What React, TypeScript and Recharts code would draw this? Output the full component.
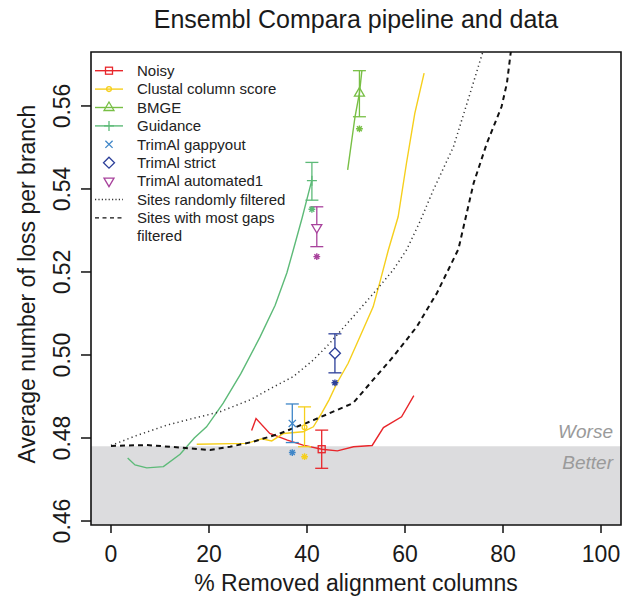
import React from "react";
import {
  ComposedChart,
  Line,
  Scatter,
  XAxis,
  YAxis,
  ErrorBar,
  ReferenceArea,
  Legend,
} from "recharts";

const FONT = '"Liberation Sans", Arial, Helvetica, sans-serif';

// axes
const X_TICKS = [0, 20, 40, 60, 80, 100];
const Y_TICKS = [0.46, 0.48, 0.5, 0.52, 0.54, 0.56];
const X_DOMAIN = [-4.08, 104.08];
const Y_DOMAIN = [0.45904, 0.573];
const BASELINE = 0.478; // untrimmed level: below = better

// curves (x = % removed columns, y = mean losses per branch)
const NOISY_X = [28.7, 29.6, 32.4, 36.0, 39.2, 43.0, 46.2, 49.5, 53.3, 55.6, 59.3, 61.8];
const NOISY_Y = [0.4818, 0.4847, 0.4811, 0.4795, 0.4783, 0.4773, 0.4769, 0.4779, 0.4782, 0.4825, 0.4851, 0.4902];

const CLUSTAL_X = [17.5, 27.7, 30.8, 32.8, 35.2, 39.2, 41.3, 43.0, 44.5, 46.1, 48.4, 50.8, 53.5, 55.0, 56.6, 58.6, 60.3, 62.0, 63.9];
const CLUSTAL_Y = [0.4785, 0.4787, 0.4798, 0.4793, 0.4811, 0.4815, 0.4827, 0.486, 0.4892, 0.4932, 0.498, 0.5044, 0.5116, 0.5181, 0.5253, 0.5333, 0.5462, 0.5582, 0.5679];

const BMGE_X = [48.3, 49.8, 50.7, 51.2];
const BMGE_Y = [0.5446, 0.5574, 0.5631, 0.5685];

const GUIDANCE_X = [3.4, 4.9, 7.3, 10.7, 14.1, 17.0, 19.5, 22.9, 26.5, 30.4, 33.5, 35.9, 37.2, 39.0, 41.0];
const GUIDANCE_Y = [0.4752, 0.4735, 0.4728, 0.4731, 0.4761, 0.48, 0.4827, 0.4884, 0.4955, 0.5043, 0.512, 0.5198, 0.5253, 0.533, 0.5422];

const RANDOM_X = [0, 5, 11.4, 17, 22.2, 28.4, 33, 37.2, 41, 44, 49.4, 54.2, 57.6, 60.3, 63, 65.8, 69.9, 73.3, 75.9];
const RANDOM_Y = [0.4782, 0.4805, 0.4831, 0.4848, 0.4863, 0.4892, 0.4922, 0.4948, 0.4985, 0.502, 0.5092, 0.5157, 0.5205, 0.5253, 0.532, 0.5398, 0.5502, 0.5631, 0.5731];

const GAPS_X = [0, 7.3, 14.1, 20.2, 24.3, 29, 34.5, 41.3, 49.4, 52.9, 57.6, 62.4, 66.5, 70.9, 74, 76.7, 79.7, 80.8, 81.6];
const GAPS_Y = [0.4781, 0.4783, 0.4777, 0.4771, 0.4779, 0.4791, 0.4811, 0.4843, 0.4884, 0.4932, 0.4996, 0.5068, 0.5149, 0.5255, 0.5414, 0.551, 0.5598, 0.5655, 0.5731];

// default settings of each method, with interval and asterisk value
const METHODS = ["Noisy", "Clustal column score", "BMGE", "Guidance", "TrimAl gappyout", "TrimAl strict", "TrimAl automated1"];
const METHOD_X = [43.0, 39.5, 50.7, 41.0, 37.0, 45.7, 42.0];
const METHOD_Y = [0.4773, 0.4826, 0.5631, 0.542, 0.4835, 0.5004, 0.5307];
const METHOD_LO = [0.4727, 0.4779, 0.5574, 0.5373, 0.4789, 0.4957, 0.5261];
const METHOD_HI = [0.4819, 0.4875, 0.5685, 0.5464, 0.4882, 0.5051, 0.5357];
const STAR_Y = [null, 0.4755, 0.5545, 0.5351, 0.4765, 0.4933, 0.5237];

const COLORS = ["#e8262b", "#f6cf1c", "#78bf45", "#5dba78", "#3f86c8", "#2c3f99", "#a8429c"];
const SHAPES = ["square", "circle", "triangle", "plus", "cross", "diamond", "down"];

const zip = (xs: number[], ys: number[]) => xs.map((x, i) => ({ x, y: ys[i] }));

const CURVES = [
  { key: "noisy", pts: zip(NOISY_X, NOISY_Y), color: COLORS[0], width: 1.4, dash: undefined },
  { key: "clustal", pts: zip(CLUSTAL_X, CLUSTAL_Y), color: COLORS[1], width: 1.4, dash: undefined },
  { key: "bmge", pts: zip(BMGE_X, BMGE_Y), color: COLORS[2], width: 1.4, dash: undefined },
  { key: "guidance", pts: zip(GUIDANCE_X, GUIDANCE_Y), color: COLORS[3], width: 1.4, dash: undefined },
  { key: "random", pts: zip(RANDOM_X, RANDOM_Y), color: "#333", width: 1.5, dash: "1.2 3.2" },
  { key: "gaps", pts: zip(GAPS_X, GAPS_Y), color: "#111", width: 2, dash: "5 4" },
];

function Marker({ kind, cx, cy, color }: { kind: string; cx: number; cy: number; color: string }) {
  const s = { stroke: color, strokeWidth: 1.3, fill: "none" };
  switch (kind) {
    case "square":
      return <rect x={cx - 3.5} y={cy - 3.5} width={7} height={7} {...s} />;
    case "circle":
      return <circle cx={cx} cy={cy} r={2.4} {...s} />;
    case "triangle":
      return <path d={`M${cx},${cy - 5.5}L${cx + 5},${cy + 3}L${cx - 5},${cy + 3}Z`} {...s} />;
    case "plus":
      return <path d={`M${cx - 5},${cy}H${cx + 5}M${cx},${cy - 5}V${cy + 5}`} {...s} />;
    case "cross":
      return <path d={`M${cx - 3.6},${cy - 3.6}L${cx + 3.6},${cy + 3.6}M${cx - 3.6},${cy + 3.6}L${cx + 3.6},${cy - 3.6}`} {...s} />;
    case "diamond":
      return <path d={`M${cx},${cy - 5.5}L${cx + 5.5},${cy}L${cx},${cy + 5.5}L${cx - 5.5},${cy}Z`} {...s} fill="#fff" />;
    case "down":
      return <path d={`M${cx - 5},${cy - 3}L${cx + 5},${cy - 3}L${cx},${cy + 5.5}Z`} {...s} fill="#fff" />;
    default:
      return null;
  }
}

function Star({ cx, cy, color }: { cx: number; cy: number; color: string }) {
  const r = 3.4;
  const d = r * 0.72;
  return (
    <path
      d={`M${cx - r},${cy}H${cx + r}M${cx},${cy - r}V${cy + r}M${cx - d},${cy - d}L${cx + d},${cy + d}M${cx - d},${cy + d}L${cx + d},${cy - d}`}
      stroke={color}
      strokeWidth={1.4}
    />
  );
}

const LEGEND_ROWS = [
  { label: "Noisy", color: COLORS[0], kind: "square", line: true },
  { label: "Clustal column score", color: COLORS[1], kind: "circle", line: true },
  { label: "BMGE", color: COLORS[2], kind: "triangle", line: true },
  { label: "Guidance", color: COLORS[3], kind: "plus", line: true },
  { label: "TrimAl gappyout", color: COLORS[4], kind: "cross", line: false },
  { label: "TrimAl strict", color: COLORS[5], kind: "diamond", line: false },
  { label: "TrimAl automated1", color: COLORS[6], kind: "down", line: false },
  { label: "Sites randomly filtered", color: "#333", kind: "", line: true, dash: "1.2 2.2" },
  { label: "Sites with most gaps", color: "#111", kind: "", line: true, dash: "4 3.5" },
];

function LegendBox() {
  return (
    <svg width={240} height={190} style={{ display: "block", overflow: "visible" }}>
      {LEGEND_ROWS.map((r, i) => {
        const y = 11.7 + i * 18.4;
        return (
          <g key={r.label}>
            {r.line && (
              <line x1={3} x2={31} y1={y} y2={y} stroke={r.color} strokeWidth={r.dash ? 1.3 : 1.4} strokeDasharray={r.dash} />
            )}
            {r.kind && <Marker kind={r.kind} cx={17} cy={y} color={r.color} />}
            <text x={45} y={y + 5.3} fontSize={15} fill="#222" fontFamily={FONT}>
              {r.label}
            </text>
          </g>
        );
      })}
      <text x={45} y={182} fontSize={15} fill="#222" fontFamily={FONT}>
        filtered
      </text>
    </svg>
  );
}

function XTick(props: any) {
  const { x, y, payload } = props;
  return (
    <text x={x} y={y + 27} textAnchor="middle" fontSize={23} fill="#1a1a1a" fontFamily={FONT}>
      {payload.value}
    </text>
  );
}

function YTick(props: any) {
  const { x, y, payload } = props;
  const bx = x - 9;
  return (
    <text x={bx} y={y} transform={`rotate(-90, ${bx}, ${y})`} textAnchor="middle" fontSize={23} fill="#1a1a1a" fontFamily={FONT}>
      {Number(payload.value).toFixed(2)}
    </text>
  );
}

export default function App() {
  return (
    <div style={{ position: "absolute", left: 0, top: 0, width: 632, height: 601, background: "#fff" }}>
      <svg width={632} height={40} style={{ position: "absolute", left: 0, top: 0 }}>
        <text x={356} y={28} textAnchor="middle" fontSize={25} fill="#1a1a1a" fontFamily={FONT}>
          Ensembl Compara pipeline and data
        </text>
      </svg>
      <div style={{ position: "absolute", left: 0, top: 0 }}>
        <ComposedChart width={632} height={601} margin={{ top: 52, right: 11, bottom: 0, left: 0 }}>
          <XAxis
            dataKey="x"
            type="number"
            domain={X_DOMAIN}
            allowDataOverflow
            ticks={X_TICKS}
            height={76}
            tickSize={8}
            axisLine={false}
            tickLine={{ stroke: "#111", strokeWidth: 1.5 }}
            tick={<XTick />}
            label={() => (
              <text x={356} y={591} textAnchor="middle" fontSize={23} fill="#1a1a1a" fontFamily={FONT}>
                % Removed alignment columns
              </text>
            )}
          />
          <YAxis
            dataKey="y"
            type="number"
            domain={Y_DOMAIN}
            allowDataOverflow
            ticks={Y_TICKS}
            width={91}
            tickSize={10}
            axisLine={false}
            tickLine={{ stroke: "#111", strokeWidth: 1.5 }}
            tick={<YTick />}
            label={() => (
              <text x={35} y={284} transform="rotate(-90, 35, 284)" textAnchor="middle" fontSize={23} fill="#1a1a1a" fontFamily={FONT}>
                Average number of loss per branch
              </text>
            )}
          />
          <ReferenceArea
            x1={X_DOMAIN[0]}
            x2={X_DOMAIN[1]}
            y1={Y_DOMAIN[0]}
            y2={BASELINE}
            fill="#dcdcde"
            fillOpacity={1}
            stroke="none"
            label={(p: any) => {
              const vb = p.viewBox;
              const rx = vb.x + vb.width - 8;
              return (
                <g fontFamily={FONT} fontStyle="italic" fontSize={19} fill="#9a9a9a" textAnchor="end">
                  <text x={rx} y={vb.y - 8.5}>Worse</text>
                  <text x={rx} y={vb.y + 22.5}>Better</text>
                </g>
              );
            }}
          />
          {CURVES.map((c) => (
            <Line
              key={c.key}
              data={c.pts}
              dataKey="y"
              type="linear"
              stroke={c.color}
              strokeWidth={c.width}
              strokeDasharray={c.dash}
              dot={false}
              activeDot={false}
              isAnimationActive={false}
            />
          ))}
          {METHODS.map((m, i) => (
            <Scatter
              key={m}
              name={m}
              data={[{ x: METHOD_X[i], y: METHOD_Y[i], err: [METHOD_Y[i] - METHOD_LO[i], METHOD_HI[i] - METHOD_Y[i]] }]}
              isAnimationActive={false}
              shape={(p: any) => <Marker kind={SHAPES[i]} cx={p.cx} cy={p.cy} color={COLORS[i]} />}
            >
              <ErrorBar dataKey="err" direction="y" width={6.5} stroke={COLORS[i]} strokeWidth={1.3} />
            </Scatter>
          ))}
          {METHODS.map((m, i) =>
            STAR_Y[i] == null ? null : (
              <Scatter
                key={m + "-star"}
                data={[{ x: METHOD_X[i], y: STAR_Y[i] }]}
                isAnimationActive={false}
                shape={(p: any) => <Star cx={p.cx} cy={p.cy} color={COLORS[i]} />}
              />
            )
          )}
          <ReferenceArea
            x1={X_DOMAIN[0]}
            x2={X_DOMAIN[1]}
            y1={Y_DOMAIN[0]}
            y2={Y_DOMAIN[1]}
            fill="none"
            stroke="#111"
            strokeWidth={1.6}
          />
          <Legend
            layout="vertical"
            align="center"
            verticalAlign="middle"
            content={<LegendBox />}
            wrapperStyle={{ left: 92, top: 59, width: 240, height: 190 }}
          />
        </ComposedChart>
      </div>
    </div>
  );
}
